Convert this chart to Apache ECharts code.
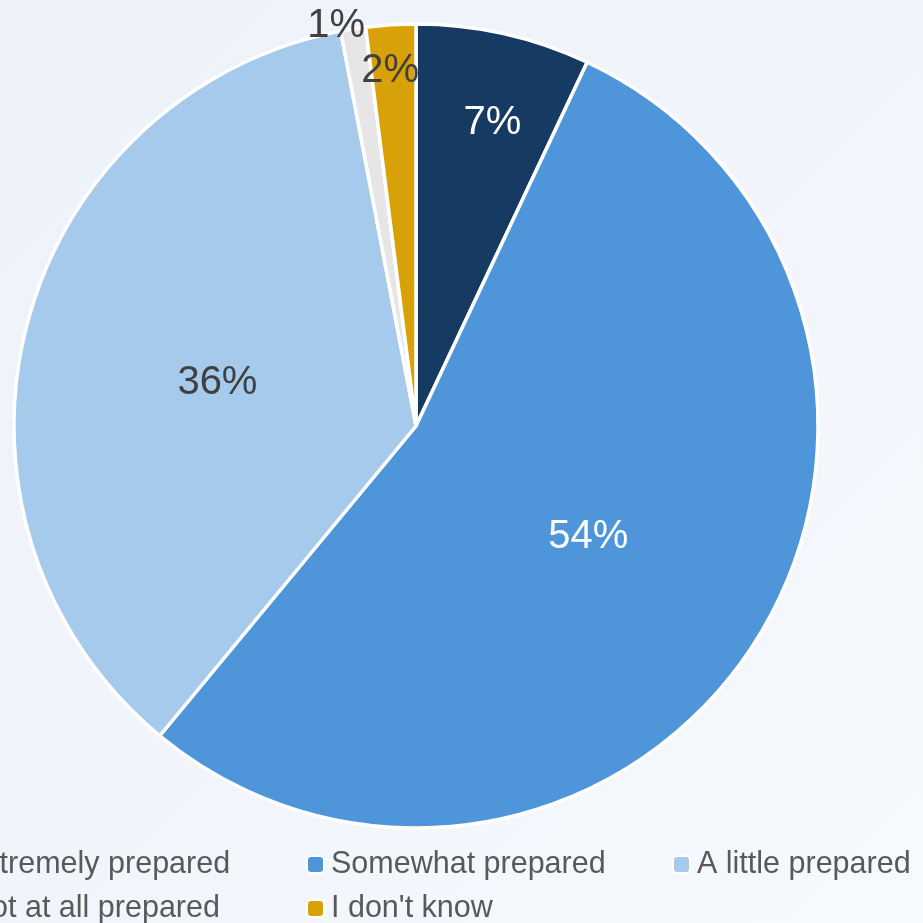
<!DOCTYPE html>
<html>
<head>
<meta charset="utf-8">
<title>Preparedness</title>
<script src="https://cdn.jsdelivr.net/npm/echarts@6/dist/echarts.min.js"></script>
<style>
  html, body { margin: 0; padding: 0; width: 923px; height: 923px; overflow: hidden; }
  #chart { width: 923px; height: 923px; }
</style>
</head>
<body>
<div id="chart"></div>
<script>
// Survey answers and their share of respondents (%)
const categories = ['Extremely prepared', 'Somewhat prepared', 'A little prepared', 'Not at all prepared', "I don't know"];
const shares = [7, 54, 36, 1, 2];
const sliceColors = ['#173a63', '#4f95d9', '#a6caeb', '#e6e6e6', '#d9a108'];
const labelColors = ['#ffffff', '#ffffff', '#404040', '#404040', '#404040'];
// Nudges for labels that sit away from the middle of their slice
const labelOffsets = [[32, -104], [0, 2], [-1, 8], [-48, -199], [-13, -151]];

// Legend laid out as a 3-column grid, two rows
const legendSlots = [
  { left: -61, top: 849 },
  { left: 306, top: 849 },
  { left: 672, top: 849 },
  { left: -56, top: 893 },
  { left: 306, top: 893 }
];

const chart = echarts.init(document.getElementById('chart'), null, { renderer: 'canvas' });

const data = categories.map((name, i) => ({
  name,
  value: shares[i],
  itemStyle: { color: sliceColors[i] },
  label: { color: labelColors[i], offset: labelOffsets[i] }
}));

const legends = categories.map((name, i) => ({
  data: [name],
  left: legendSlots[i].left,
  top: legendSlots[i].top,
  orient: 'horizontal',
  padding: 0,
  itemWidth: 17,
  itemHeight: 17,
  itemGap: 0,
  selectedMode: false,
  textStyle: {
    fontFamily: 'Liberation Sans, Arial, sans-serif',
    fontSize: 30.5,
    color: '#595959',
    padding: [0, 0, 0, 2]
  }
}));

chart.setOption({
  backgroundColor: {
    type: 'linear', x: 0, y: 0, x2: 1, y2: 1,
    colorStops: [
      { offset: 0, color: '#edf1f9' },
      { offset: 1, color: '#f6f9fd' }
    ]
  },
  animation: false,
  legend: legends,
  series: [{
    type: 'pie',
    center: [416, 426],
    radius: [0, 402],
    startAngle: 90,
    clockwise: true,
    avoidLabelOverlap: false,
    minAngle: 0,
    itemStyle: { borderColor: '#ffffff', borderWidth: 3.5 },
    label: {
      show: true,
      position: 'inside',
      formatter: '{c}%',
      fontFamily: 'Liberation Sans, Arial, sans-serif',
      fontSize: 40
    },
    labelLine: { show: false },
    emphasis: { disabled: true },
    data
  }]
});
</script>
</body>
</html>
